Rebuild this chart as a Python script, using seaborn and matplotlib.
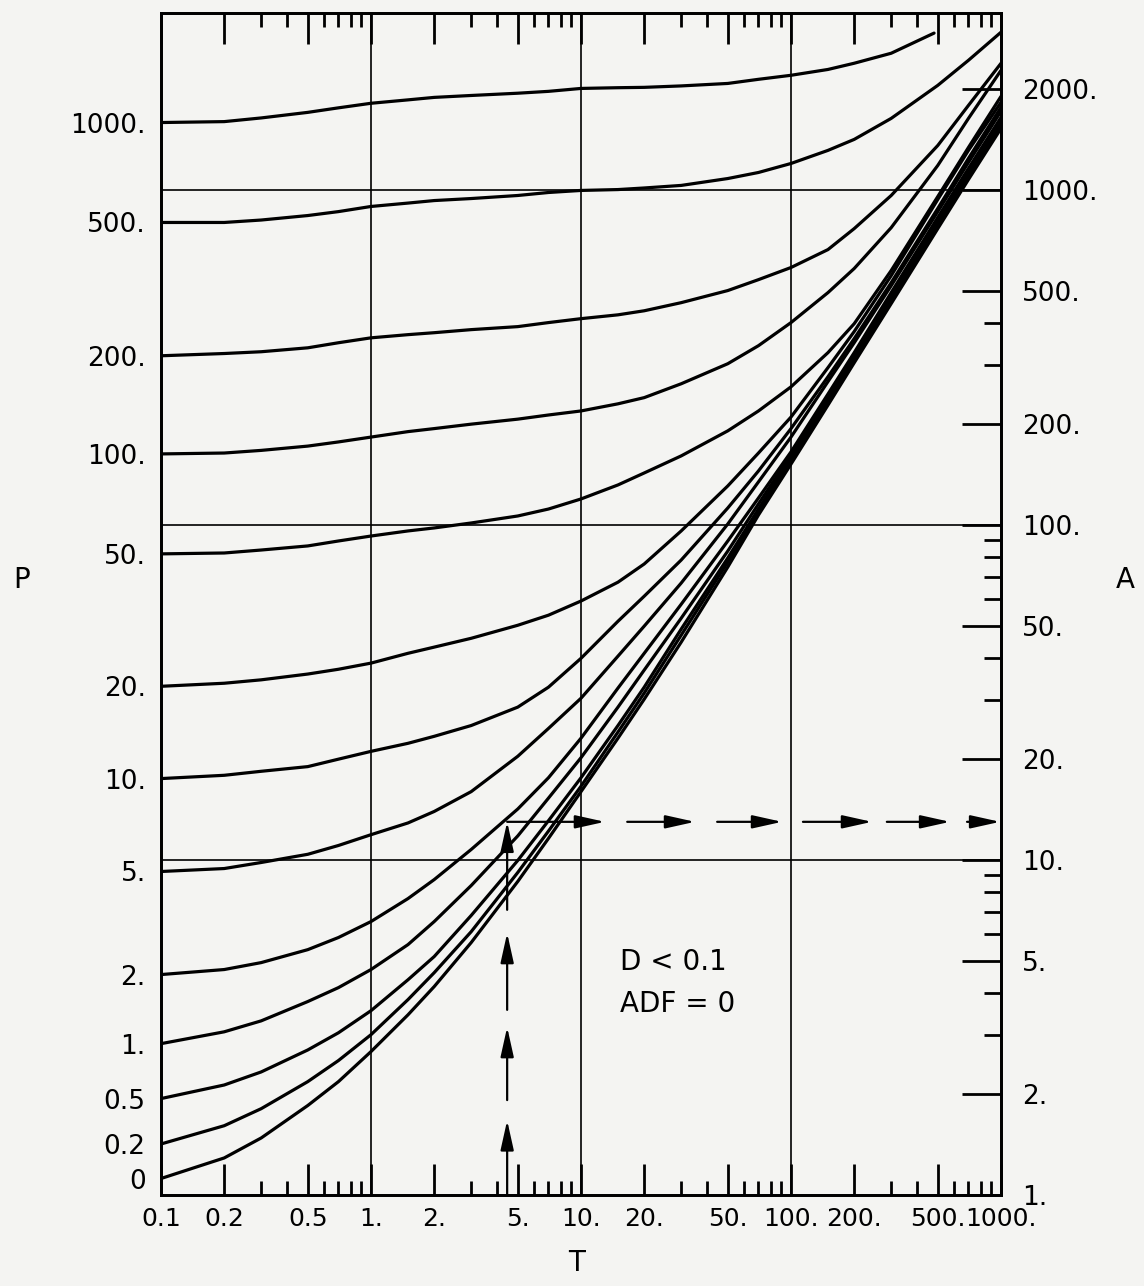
import matplotlib
matplotlib.use("Agg")
import matplotlib.pyplot as plt
import numpy as np
import pandas as pd
import seaborn as sns
from matplotlib.ticker import FixedLocator, FixedFormatter, NullLocator

# ---------------- data ----------------
T_GRID = [0.1, 0.2, 0.3, 0.5, 0.7, 1, 1.5, 2, 3, 5, 7, 10, 15, 20, 30, 50,
          70, 100, 150, 200, 300, 500, 700, 1000]
T_P1000 = [0.1, 0.2, 0.3, 0.5, 0.7, 1, 1.5, 2, 3, 5, 7, 10, 15, 20, 30, 50,
           70, 100, 150, 200, 300, 480]

A_P1000 = [1590, 1600, 1641, 1705, 1759, 1815, 1858, 1890, 1915, 1945, 1970,
           2010, 2020, 2025, 2045, 2080, 2140, 2200, 2290, 2390, 2560, 2940]
A_P500 = [800, 800, 813.5, 839, 862, 893, 914, 930, 943, 963, 983, 997, 1003,
          1014, 1032, 1082, 1128, 1200, 1313, 1416, 1636, 2053, 2439, 2958]
A_P200 = [320, 325, 329, 338, 350, 362, 370, 375, 383, 391, 402, 413, 424,
          436, 461, 501, 540, 587, 664, 767, 963, 1358, 1789, 2389]
A_P100 = [163, 164, 167, 172, 177, 183, 190, 194, 200, 207, 213, 219, 230,
          240, 264, 303, 343, 402, 494, 583, 772, 1184, 1636, 2276]
A_P50 = [82, 82.5, 84.2, 86.6, 89.6, 92.7, 96.0, 98.0, 101.4, 106.4, 111.6,
         119.6, 131.7, 143, 160.8, 191, 219, 258.5, 327, 399, 575, 956, 1340,
         1903]
A_P20 = [33.0, 33.7, 34.5, 35.9, 37.1, 38.7, 41.4, 43.2, 45.9, 50.2, 53.8,
         59.3, 67.5, 76.5, 96.0, 130.8, 164, 210, 295, 378, 555, 937, 1313,
         1827]
A_P10 = [17.5, 17.9, 18.4, 19.0, 20.0, 21.1, 22.3, 23.4, 25.2, 28.6, 32.8,
         40.0, 51.6, 61.3, 78.6, 112.4, 145, 194, 277, 360, 529, 881, 1243,
         1765]
A_P5 = [9.24, 9.43, 9.83, 10.4, 11.05, 11.9, 12.9, 13.96, 16.0, 20.4, 24.7,
        30.4, 40.6, 49.9, 67.1, 100.7, 134.5, 183, 268, 350, 518, 862, 1209,
        1717]
A_P2 = [4.55, 4.71, 4.94, 5.40, 5.87, 6.55, 7.67, 8.74, 10.75, 14.2, 17.6,
        23.1, 32.6, 41.4, 58.0, 89.6, 120.4, 165.3, 246, 327, 494, 828, 1160,
        1647]
A_P1 = [2.83, 3.07, 3.31, 3.78, 4.16, 4.71, 5.59, 6.55, 8.39, 11.8, 15.3,
        20.2, 28.6, 36.9, 52.7, 83.6, 115.6, 162, 241, 322, 484, 811, 1136,
        1614]
A_P05 = [1.94, 2.13, 2.33, 2.71, 3.05, 3.55, 4.39, 5.15, 6.83, 9.97, 13.1,
         17.6, 25.2, 32.8, 48.9, 79.7, 111.6, 159, 238, 318, 477, 800, 1120,
         1592]
A_P02 = [1.42, 1.61, 1.81, 2.18, 2.52, 3.01, 3.83, 4.61, 6.11, 9.18, 12.2,
         16.6, 24.1, 31.5, 46.9, 77.5, 109.4, 155, 235, 313.5, 471, 789, 1105,
         1570]
A_P0 = [1.12, 1.29, 1.48, 1.85, 2.18, 2.68, 3.45, 4.19, 5.67, 8.63, 11.6,
        16.0, 23.1, 30.2, 44.7, 74.9, 107.1, 152, 228, 305, 458, 767, 1075,
        1527]

P_LABELS = ["1000.", "500.", "200.", "100.", "50.", "20.", "10.", "5.",
            "2.", "1.", "0.5", "0.2", "0"]
CURVES = [A_P1000, A_P500, A_P200, A_P100, A_P50, A_P20, A_P10, A_P5,
          A_P2, A_P1, A_P05, A_P02, A_P0]

X_TICKS = [0.1, 0.2, 0.5, 1, 2, 5, 10, 20, 50, 100, 200, 500, 1000]
X_LABELS = ["0.1", "0.2", "0.5", "1.", "2.", "5.", "10.", "20.", "50.",
            "100.", "200.", "500.", "1000."]
X_MINOR = [0.3, 0.4, 0.6, 0.7, 0.8, 0.9, 3, 4, 6, 7, 8, 9,
           30, 40, 60, 70, 80, 90, 300, 400, 600, 700, 800, 900]

R_TICKS = [1, 2, 5, 10, 20, 50, 100, 200, 500, 1000, 2000]
R_LABELS = ["1.", "2.", "5.", "10.", "20.", "50.", "100.", "200.", "500.",
            "1000.", "2000."]
R_MINOR = [3, 4, 6, 7, 8, 9, 30, 40, 60, 70, 80, 90, 300, 400]

GRID_T = [1, 10, 100]
GRID_A = [10, 100, 1000]

# worked example (dashed arrows)
EX_T = 4.45
EX_A = 13.0
ARROW_V_TAIL = [1.0, 1.92, 3.57, 7.1]
ARROW_V_TIP = [1.67, 3.17, 6.05, 13.0]
ARROW_H_TAIL = [4.45, 16.6, 44.5, 114, 286, 689]
ARROW_H_TIP = [13.0, 34.9, 90.6, 243, 572, 990]

# ---------------- build frame ----------------
rows = []
for lab, vals in zip(P_LABELS, CURVES):
    ts = T_P1000 if lab == "1000." else T_GRID
    for t, a in zip(ts, vals):
        rows.append({"P": lab, "T": t, "A": a})
df = pd.DataFrame(rows)

sns.set_theme(style="white")
plt.rcParams["font.family"] = ["DejaVu Sans"]
plt.rcParams["text.color"] = "black"
plt.rcParams["xtick.color"] = "black"
plt.rcParams["ytick.color"] = "black"
plt.rcParams["xtick.labelcolor"] = "black"
plt.rcParams["ytick.labelcolor"] = "black"

W, H = 1144, 1286
BG = "#f4f4f2"
fig = plt.figure(figsize=(W / 100, H / 100), dpi=100)
fig.patch.set_facecolor(BG)
ax = fig.add_axes([161 / W, 1 - 1195 / H, 840 / W, 1182 / H])
ax.set_facecolor(BG)
ax.set_xscale("log")
ax.set_yscale("log")

for t in GRID_T:
    ax.axvline(t, color="black", lw=1.2, zorder=1)
for a in GRID_A:
    ax.axhline(a, color="black", lw=1.2, zorder=1)

sns.lineplot(data=df, x="T", y="A", units="P", estimator=None, sort=False,
             color="black", lw=2.3, ax=ax, legend=False, zorder=3)
for ln in ax.get_lines():
    ln.set_solid_capstyle("round")
    ln.set_solid_joinstyle("round")

ax.set_xlim(0.1, 1000)
ax.set_ylim(1, 10 ** (1182 / 335))
ax.set_xlabel("")
ax.set_ylabel("")

# dashed arrows
arrow_kw = dict(arrowstyle="-|>,head_length=0.9,head_width=0.2",
                color="black", lw=1.6, shrinkA=0, shrinkB=0,
                mutation_scale=20)
for a0, a1 in zip(ARROW_V_TAIL, ARROW_V_TIP):
    ax.annotate("", xy=(EX_T, a1), xytext=(EX_T, a0),
                arrowprops=arrow_kw, zorder=4)
for t0, t1 in zip(ARROW_H_TAIL, ARROW_H_TIP):
    ax.annotate("", xy=(t1, EX_A), xytext=(t0, EX_A),
                arrowprops=arrow_kw, zorder=4)

ax.text(0.546, 0.197, "D < 0.1", transform=ax.transAxes, fontsize=20,
        ha="left", va="center", color="black")
ax.text(0.546, 0.162, "ADF = 0", transform=ax.transAxes, fontsize=20,
        ha="left", va="center", color="black")

# x ticks
ax.xaxis.set_major_locator(FixedLocator(X_TICKS))
ax.xaxis.set_major_formatter(FixedFormatter(X_LABELS))
ax.xaxis.set_minor_locator(FixedLocator(X_MINOR))
ax.tick_params(axis="x", which="major", direction="in", length=22, width=2,
               top=True, bottom=True, labeltop=False, labelsize=18, pad=9,
               color="black", labelcolor="black")
ax.tick_params(axis="x", which="minor", direction="in", length=10, width=2,
               top=True, bottom=True, color="black")

# left labels: curve parameter P at curve start
ax.yaxis.set_major_locator(FixedLocator([c[0] for c in CURVES]))
ax.yaxis.set_major_formatter(FixedFormatter(P_LABELS))
ax.yaxis.set_minor_locator(NullLocator())
ax.tick_params(axis="y", which="major", length=0, labelsize=19, pad=11,
               left=True, right=False, labelcolor="black")

for s in ax.spines.values():
    s.set_linewidth(2.0)
    s.set_color("black")

# right axis A
ax2 = ax.twinx()
ax2.set_yscale("log")
ax2.set_ylim(ax.get_ylim())
ax2.yaxis.set_major_locator(FixedLocator(R_TICKS))
ax2.yaxis.set_major_formatter(FixedFormatter(R_LABELS))
ax2.yaxis.set_minor_locator(FixedLocator(R_MINOR))
ax2.tick_params(axis="y", which="major", direction="in", length=28, width=2,
                labelsize=19, pad=15, color="black", labelcolor="black")
ax2.tick_params(axis="y", which="minor", direction="in", length=12, width=2,
                color="black")
for s in ax2.spines.values():
    s.set_linewidth(2.0)
    s.set_color("black")

fig.text(22 / W, 1 - 580 / H, "P", ha="center", va="center", fontsize=20)
fig.text(1125 / W, 1 - 580 / H, "A", ha="center", va="center", fontsize=20)
fig.text(577 / W, 1 - 1263 / H, "T", ha="center", va="center", fontsize=20)

fig.savefig("out.png", dpi=100, facecolor=BG)
